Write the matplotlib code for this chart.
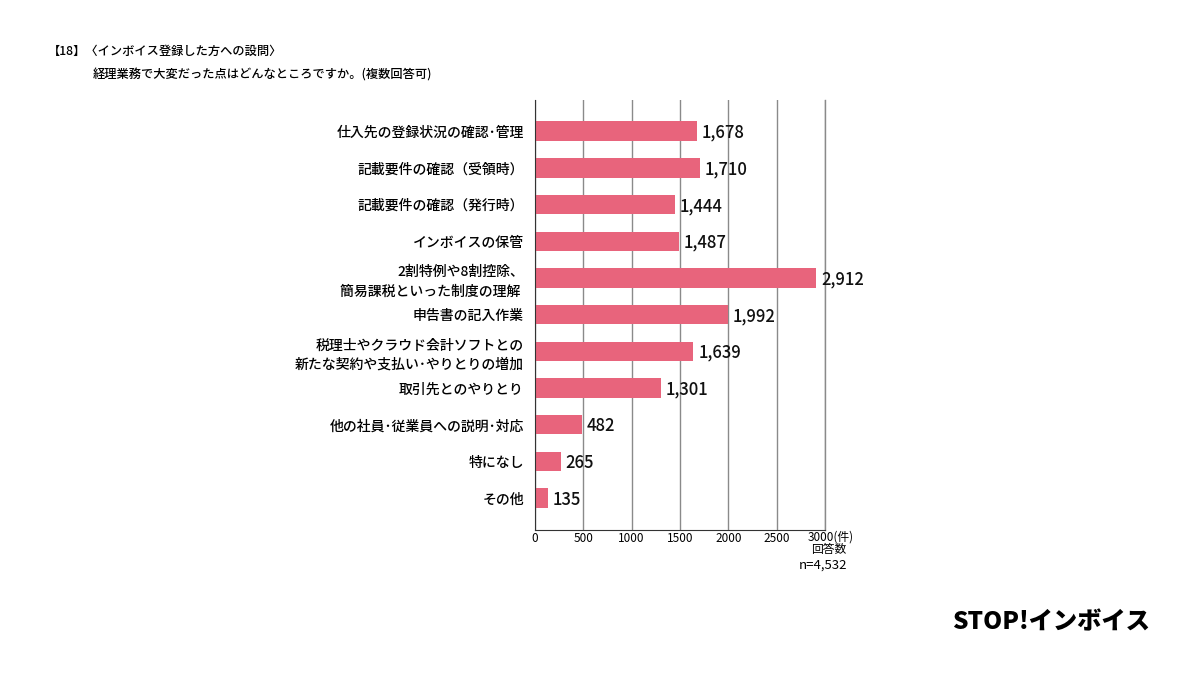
import matplotlib
matplotlib.use("Agg")
import matplotlib.pyplot as plt

plt.rcParams["font.family"] = ["Noto Sans CJK JP", "DejaVu Sans"]

# data
categories = [
    "仕入先の登録状況の確認･管理",
    "記載要件の確認（受領時）",
    "記載要件の確認（発行時）",
    "インボイスの保管",
    "2割特例や8割控除、\n簡易課税といった制度の理解 ",
    "申告書の記入作業",
    "税理士やクラウド会計ソフトとの\n新たな契約や支払い･やりとりの増加",
    "取引先とのやりとり",
    "他の社員･従業員への説明･対応",
    "特になし",
    "その他",
]
counts = [1678, 1710, 1444, 1487, 2912, 1992, 1639, 1301, 482, 265, 135]
xticks = [0, 500, 1000, 1500, 2000, 2500, 3000]
xtick_labels = ["0", "500", "1000", "1500", "2000", "2500", ""]

bar_color = "#E8647C"

fig = plt.figure(figsize=(12, 6.75), dpi=100)
ax_l, ax_b, ax_w, ax_h = 0.4458, 0.2148, 0.2417, 0.6371
ax = fig.add_axes([ax_l, ax_b, ax_w, ax_h])

ypos = list(range(len(categories)))
ax.barh(ypos, counts, height=0.53, color=bar_color, zorder=3)

for y, v in zip(ypos, counts):
    ax.text(v + 50, y + 0.04, f"{v:,}", va="center", ha="left", fontsize=12,
            fontweight="medium", color="#111111", zorder=4)

ax.set_xlim(0, 3000)
ax.set_ylim(10.87, -0.85)
ax.set_yticks(ypos)
ax.set_yticklabels(categories, fontsize=10, fontweight="medium", linespacing=1.45)
ax.set_xticks(xticks)
ax.set_xticklabels(xtick_labels, fontsize=8.5)
ax.tick_params(axis="y", length=0, pad=8)
ax.tick_params(axis="x", length=0, pad=1.5)

ax.grid(axis="x", color="#8a8a8a", linewidth=1.0, zorder=0)
ax.axvline(3000, color="#8a8a8a", linewidth=1.0, zorder=0, clip_on=False)
for s in ["top", "right"]:
    ax.spines[s].set_visible(False)
ax.spines["left"].set_color("#333333")
ax.spines["bottom"].set_color("#333333")
ax.spines["left"].set_zorder(5)

# last tick with unit, answer count and sample size
x_end = ax_l + ax_w
fig.text(x_end + 0.005, 1 - 537 / 675, "3000(件)", fontsize=8.5, va="center", ha="center")
fig.text(x_end + 0.003, 1 - 550 / 675, "回答数", fontsize=8.5, va="center", ha="center")
fig.text(x_end - 0.002, 1 - 565 / 675, "n=4,532", fontsize=9.5, va="center", ha="center")

# titles
fig.text(0.040, 0.924, "【18】〈インボイス登録した方への設問〉", fontsize=8.8,
         fontweight="medium", va="center", ha="left")
fig.text(0.077, 0.889, "経理業務で大変だった点はどんなところですか。(複数回答可)",
         fontsize=8.8, fontweight="medium", va="center", ha="left")

# logo
fig.text(0.958, 0.0785, "STOP!インボイス", fontsize=17.5, fontweight="black",
         va="center", ha="right", color="black")

fig.savefig("out.png", dpi=100)
